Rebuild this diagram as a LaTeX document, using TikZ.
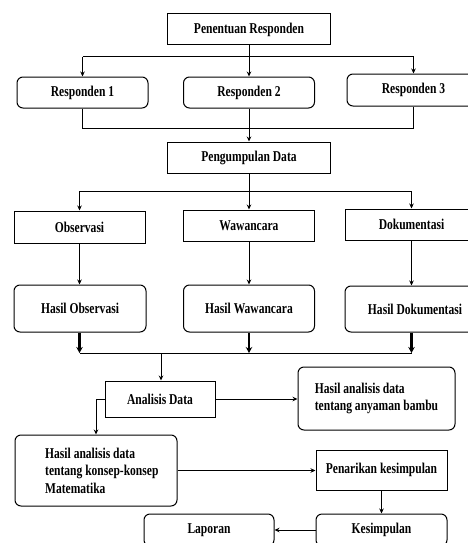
\documentclass[tikz,border=0pt]{standalone}
\usepackage{fontspec}
\newfontfamily\lblfam{Liberation Serif}[FakeStretch=0.77]
\newcommand\lblfont{\lblfam\bfseries\fontsize{15}{17.5}\selectfont}
\usetikzlibrary{arrows.meta}
\begin{document}
\begin{tikzpicture}[x=1pt,y=-1pt,
  sq/.style={draw, line width=1pt, inner sep=0pt, font=\lblfont},
  rd/.style={sq, rounded corners=6pt},
  ln/.style={line width=1pt},
  arr/.style={ln, -{Stealth[length=5pt,width=4.5pt]}},
  thk/.style={line width=2.2pt, -{Stealth[length=6pt,width=6.5pt]}}]
\clip (0,0) rectangle (468,543);
% nodes
\node[sq, minimum width=163pt, minimum height=31pt] (pen) at (249,29.5) {Penentuan Responden};
\node[rd, minimum width=131pt, minimum height=31pt] (r1) at (82.5,92.5) {Responden 1};
\node[rd, minimum width=131pt, minimum height=31pt] (r2) at (249,92.5) {Responden 2};
\node[rd, minimum width=133pt, minimum height=32pt] (r3) at (413.5,90) {Responden 3};
\node[sq, minimum width=163pt, minimum height=31pt] (pg) at (249,157.5) {Pengumpulan Data};
\node[sq, minimum width=131pt, minimum height=32pt] (obs) at (79.5,227) {Observasi};
\node[sq, minimum width=131pt, minimum height=31pt] (wcr) at (249,225.5) {Wawancara};
\node[sq, minimum width=133pt, minimum height=31pt] (dok) at (411.5,224.5) {Dokumentasi};
\node[rd, minimum width=132pt, minimum height=47pt] (hobs) at (80,308.5) {Hasil Observasi};
\node[rd, minimum width=131pt, minimum height=47pt] (hwcr) at (249,308.5) {Hasil Wawancara};
\node[rd, minimum width=140pt, minimum height=46pt] (hdok) at (415,309) {Hasil Dokumentasi};
\node[sq, minimum width=110pt, minimum height=36pt] (ana) at (160,399) {Analisis Data};
\node[rd, minimum width=157pt, minimum height=63pt, align=left] (any) at (376.5,398.5) {Hasil analisis data\\tentang anyaman bambu};
\node[rd, minimum width=162pt, minimum height=71pt] (kon) at (96,470.5) {};
\node[font=\lblfont, align=left, anchor=west, inner sep=0pt] (kont) at (45,470.5) {Hasil analisis data\\tentang konsep-konsep\\Matematika};
\node[sq, minimum width=131pt, minimum height=40pt] (pk) at (381.5,470) {Penarikan kesimpulan};
\node[rd, minimum width=131pt, minimum height=32pt] (kes) at (381.5,530) {Kesimpulan};
\node[rd, minimum width=130pt, minimum height=32pt] (lap) at (209,530) {Laporan};
% connectors top
\coordinate (f1) at (249,57);
\draw[arr] (pen.south) -- (r2.north);
\draw[ln] (r1.north |- f1) -- (r3.north |- f1);
\draw[arr] (r1.north |- f1) -- (r1.north);
\draw[arr] (r3.north |- f1) -- (r3.north);
\coordinate (j1) at (249,128);
\draw[ln] (r1.south) -- (r1.south |- j1) -- (r3.south |- j1) -- (r3.south);
\draw[arr] (r2.south) -- (pg.north);
% second fan
\coordinate (f2) at (249,191);
\draw[arr] (pg.south) -- (wcr.north);
\draw[ln] (obs.north |- f2) -- (dok.north |- f2);
\draw[arr] (obs.north |- f2) -- (obs.north);
\draw[arr] (dok.north |- f2) -- (dok.north);
\draw[arr] (obs.south) -- (obs.south |- hobs.north);
\draw[arr] (wcr.south) -- (hwcr.north);
\draw[arr] (dok.south) -- (dok.south |- hdok.north);
% join results
\coordinate (j2) at (161,353);
\draw[thk] (obs.south |- hobs.south) -- (obs.south |- j2);
\draw[thk] (hwcr.south) -- (hwcr.south |- j2);
\draw[thk] (dok.south |- hdok.south) -- (dok.south |- j2);
\draw[ln] (obs.south |- j2) -- (dok.south |- j2);
\draw[arr] (j2) -- (j2 |- ana.north);
% analysis
\draw[arr] (ana.east) -- (ana.east -| any.west);
\draw[arr] (ana.west) -| (kon.north);
\draw[arr] (kon.east) -- (kon.east -| pk.west);
\draw[arr] (pk.south) -- (kes.north);
\draw[arr] (kes.west) -- (lap.east);
\end{tikzpicture}
\end{document}
